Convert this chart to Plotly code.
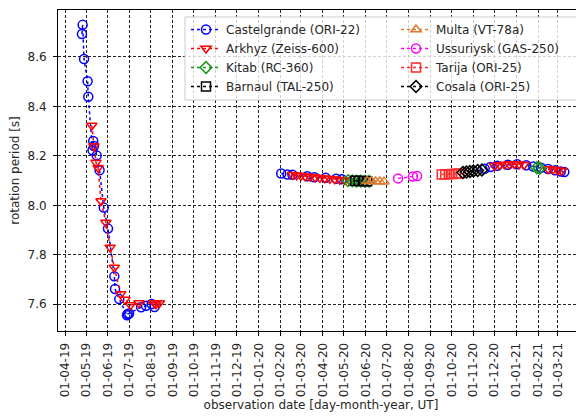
import plotly.graph_objects as go

# ---------------- data ----------------
castel_dates = ["2019-04-25", "2019-04-26", "2019-04-28", "2019-05-03", "2019-05-04", "2019-05-10",
                "2019-05-11", "2019-05-12", "2019-05-16", "2019-05-20", "2019-05-26", "2019-06-01",
                "2019-06-10", "2019-06-11", "2019-06-17", "2019-06-28", "2019-06-29", "2019-07-01",
                "2019-07-18", "2019-07-25", "2019-08-02", "2019-08-06",
                "2019-12-01",
                "2020-02-02", "2020-02-11", "2020-02-18", "2020-03-10", "2020-03-20", "2020-04-05",
                "2020-04-20", "2020-04-28",
                "2020-08-01",
                "2020-11-17", "2020-11-25", "2020-12-05", "2020-12-20", "2021-01-02", "2021-01-15",
                "2021-01-25", "2021-02-05", "2021-02-15", "2021-02-25", "2021-03-05", "2021-03-10"]
castel_vals = [8.693, 8.730, 8.592, 8.502, 8.439, 8.223,
               8.260, 8.240, 8.202, 8.142, 7.991, 7.906,
               7.713, 7.662, 7.621, 7.556, 7.561, 7.563,
               7.588, 7.594, 7.601, 7.589,
               None,
               8.129, 8.125, 8.124, 8.118, 8.114, 8.112,
               8.108, 8.106,
               None,
               8.148, 8.155, 8.160, 8.164, 8.166, 8.162,
               8.157, 8.152, 8.147, 8.142, 8.137, 8.135]

arkhyz_dates = ["2019-05-09", "2019-05-12", "2019-05-15", "2019-05-18", "2019-05-22", "2019-05-29",
                "2019-06-04", "2019-06-10", "2019-06-19", "2019-06-25", "2019-07-03", "2019-07-15",
                "2019-08-06", "2019-08-08", "2019-08-13",
                "2019-12-01",
                "2020-02-18", "2020-02-24", "2020-03-01", "2020-03-07", "2020-03-14", "2020-03-21",
                "2020-03-28", "2020-04-04", "2020-04-11", "2020-04-18", "2020-04-25", "2020-05-02",
                "2020-05-09",
                "2020-08-01",
                "2020-12-01", "2020-12-08", "2020-12-15", "2020-12-22", "2020-12-29", "2021-01-05",
                "2021-01-12",
                "2021-02-01",
                "2021-02-15", "2021-02-22", "2021-03-01", "2021-03-06"]
arkhyz_vals = [8.323, 8.240, 8.173, 8.152, 8.018, 7.931,
               7.830, 7.749, 7.642, 7.619, 7.597, 7.605,
               7.605, 7.600, 7.605,
               None,
               8.124, 8.122, 8.120, 8.118, 8.116, 8.114,
               8.112, 8.110, 8.108, 8.106, 8.104, 8.102,
               8.100,
               None,
               8.160, 8.163, 8.165, 8.166, 8.167, 8.166,
               8.164,
               None,
               8.147, 8.145, 8.142, 8.140]

kitab_dates = ["2020-05-07", "2020-05-13", "2020-05-19", "2020-05-25", "2020-05-31", "2020-06-06",
               "2020-10-01", "2021-01-30", "2021-02-03"]
kitab_vals = [8.100, 8.099, 8.098, 8.098, 8.097, 8.097,
              None, 8.152, 8.150]

barnaul_dates = ["2020-05-17", "2020-05-22", "2020-05-28", "2020-06-03"]
barnaul_vals = [8.100, 8.099, 8.099, 8.098]

multa_dates = ["2020-06-03", "2020-06-09", "2020-06-15", "2020-06-21", "2020-06-27"]
multa_vals = [8.098, 8.098, 8.097, 8.097, 8.096]

ussur_dates = ["2020-07-17", "2020-08-07", "2020-08-13"]
ussur_vals = [8.109, 8.117, 8.119]

tarija_dates = ["2020-09-17", "2020-09-22", "2020-09-27", "2020-10-02", "2020-10-07", "2020-10-12"]
tarija_vals = [8.125, 8.126, 8.126, 8.127, 8.128, 8.129]

cosala_dates = ["2020-10-17", "2020-10-22", "2020-10-27", "2020-11-01", "2020-11-07", "2020-11-13"]
cosala_vals = [8.133, 8.135, 8.137, 8.139, 8.141, 8.143]

series_names = ["Castelgrande (ORI-22)", "Arkhyz (Zeiss-600)", "Kitab (RC-360)", "Barnaul (TAL-250)",
                "Multa (VT-78a)", "Ussuriysk (GAS-250)", "Tarija (ORI-25)", "Cosala (ORI-25)"]

y_ticks = [7.6, 7.8, 8.0, 8.2, 8.4, 8.6]

# ---------------- figure ----------------
# the page body has an 8px default margin, so the figure is laid out 8px smaller
OFF = 8
W, H = 584 - OFF, 418 - OFF
ML, MR, MT, MB = 58 - OFF, 0, 10 - OFF, 418 - 331
pw, ph = W - ML - MR, H - MT - MB


def px_x(p):  # page pixel -> paper fraction
    return (p - OFF - ML) / pw


def px_y(p):
    return (H - MB - (p - OFF)) / ph


FONT = "DejaVu Sans"
TXT = "#262626"

series = [
    (castel_dates, castel_vals, "#0000ff", "circle-open", "legend"),
    (arkhyz_dates, arkhyz_vals, "#ff0000", "triangle-down-open", "legend"),
    (kitab_dates, kitab_vals, "#1a951a", "diamond-open", "legend"),
    (barnaul_dates, barnaul_vals, "#000000", "square-open", "legend"),
    (multa_dates, multa_vals, "#e0792f", "triangle-up-open", "legend2"),
    (ussur_dates, ussur_vals, "#ff00ff", "circle-open", "legend2"),
    (tarija_dates, tarija_vals, "#ff2a2a", "square-open", "legend2"),
    (cosala_dates, cosala_vals, "#000000", "diamond-open", "legend2"),
]

fig = go.Figure()
for name, (d, v, c, sym, lg) in zip(series_names, series):
    fig.add_trace(go.Scatter(
        x=d, y=v, name=name, mode="lines+markers", connectgaps=False,
        line=dict(color=c, width=1.5, dash="dot"),
        marker=dict(symbol=sym, size=9, color=c, line=dict(color=c, width=1.5)),
        legend=lg,
    ))

fig.add_shape(type="rect", xref="paper", yref="paper",
              x0=px_x(185), x1=px_x(580), y0=px_y(100), y1=px_y(17),
              line=dict(color="#cccccc", width=1), fillcolor="rgba(255,255,255,0.8)",
              layer="above")

legend_common = dict(bgcolor="rgba(0,0,0,0)", borderwidth=0, font=dict(family=FONT, size=12, color=TXT),
                     xanchor="left", yanchor="top", tracegroupgap=0, itemwidth=30)

fig.update_layout(
    template="none",
    width=W, height=H,
    margin=dict(l=ML, r=MR, t=MT, b=MB, autoexpand=False),
    paper_bgcolor="white", plot_bgcolor="white",
    font=dict(family=FONT, size=12, color=TXT),
    showlegend=True,
    legend=dict(x=px_x(186), y=px_y(15), **legend_common),
    legend2=dict(x=px_x(396), y=px_y(15), **legend_common),
    xaxis=dict(
        type="date", automargin=False,
        range=["2019-03-22", "2021-04-07"],
        tick0="2019-04-01", dtick="M1", tickformat="%d-%m-%y",
        tickangle=-90, tickfont=dict(family=FONT, size=12, color=TXT),
        ticks="outside", ticklen=4, tickcolor="#000", tickwidth=1,
        ticklabelstandoff=2,
        showline=True, linecolor="#000", linewidth=1, mirror=True,
        showgrid=True, gridcolor="#222", gridwidth=1, griddash="3px,2px",
        zeroline=False,
        title=dict(text="observation date [day-month-year, UT]", standoff=4,
                   font=dict(family=FONT, size=12, color=TXT)),
    ),
    yaxis=dict(
        automargin=False,
        range=[7.492, 8.79],
        tickvals=y_ticks, ticktext=[f"{t:.1f}" for t in y_ticks],
        tickfont=dict(family=FONT, size=12, color=TXT),
        ticks="outside", ticklen=4, tickcolor="#000", tickwidth=1,
        ticklabelstandoff=4,
        showline=True, linecolor="#000", linewidth=1, mirror=False,
        showgrid=True, gridcolor="#222", gridwidth=1, griddash="3px,2px",
        zeroline=False,
        title=dict(text="rotation period [s]", standoff=12,
                   font=dict(family=FONT, size=12, color=TXT)),
    ),
)

fig.write_html("out.html")
